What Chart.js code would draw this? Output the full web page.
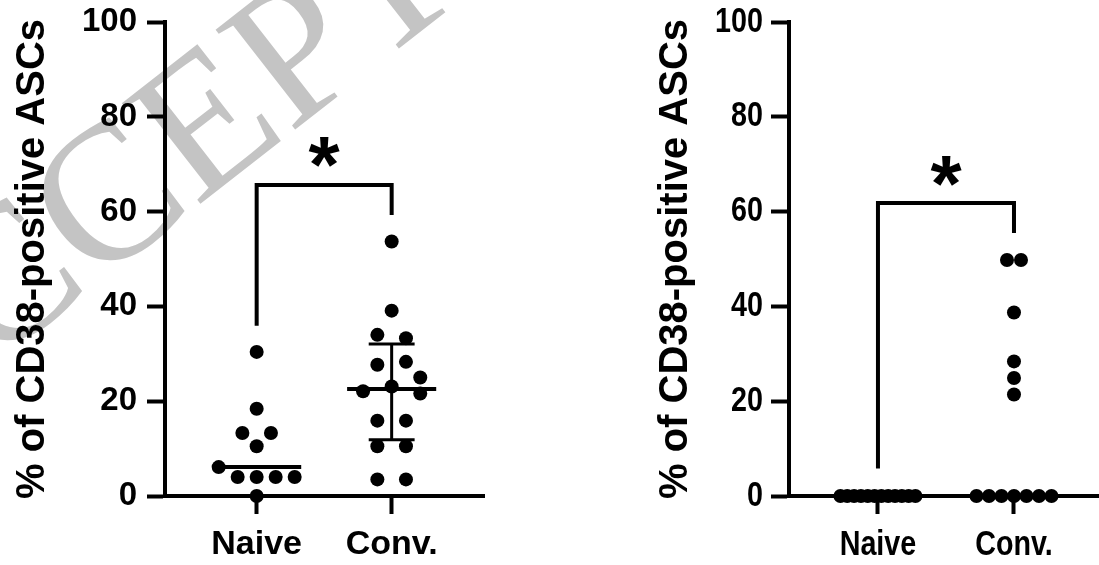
<!DOCTYPE html>
<html>
<head>
<meta charset="utf-8">
<script src="https://cdn.jsdelivr.net/npm/chart.js@4.4.1/dist/chart.umd.min.js"></script>
<style>
  html, body { margin: 0; padding: 0; background: #fff; }
  #wrap { position: relative; width: 1099px; height: 565px; overflow: hidden; }
  .panel { position: absolute; top: 0; height: 565px; }
</style>
</head>
<body>
<div id="wrap">
  <div class="panel" style="left:0;width:549px"><canvas id="left" width="549" height="565"></canvas></div>
  <div class="panel" style="left:549px;width:550px"><canvas id="right" width="550" height="565"></canvas></div>
</div>
<script>
// ---- data ----
const groups = ['Naive', 'Conv.']
const yTitle = '% of CD38-positive ASCs'
const yMin = 0
const yMax = 100
const yStep = 20

// left panel
const leftNaive = [0, 6.1, 4.0, 4.0, 4.0, 4.0, 13.3, 10.5, 13.3, 18.4, 30.4]
const leftConv = [3.5, 3.5, 10.5, 10.5, 15.9, 15.9, 22.1, 23.1, 21.6, 25.0, 27.7, 28.3, 34.0, 33.3, 39.1, 53.7]
const leftBracket = [35.9, 65.6, 65.6, 59.3]   // naive leg end, top, top, conv leg end
const leftStar = 72.3

// right panel
const rightNaive = [0, 0, 0, 0, 0, 0, 0, 0, 0, 0, 0, 0]
const rightConv = [0, 0, 0, 0, 0, 0, 0, 21.4, 24.9, 28.4, 38.7, 49.8, 49.8]
const rightBracket = [5.8, 61.8, 61.8, 55.5]
const rightStar = 68.3

const SANS = '"Liberation Sans", Arial, sans-serif'

// ---- helpers ----
function quantile(values, p) {
  // same interpolation as GraphPad: position (n+1)p
  const s = [...values].sort((a, b) => a - b)
  const pos = (s.length + 1) * p
  const lo = Math.max(1, Math.min(s.length, Math.floor(pos)))
  const hi = Math.min(s.length, lo + 1)
  const frac = Math.max(0, Math.min(1, pos - lo))
  return s[lo - 1] + frac * (s[hi - 1] - s[lo - 1])
}

// simple GraphPad-like swarm: near-equal values share a row, rows spread symmetrically,
// a row is pushed sideways if it would overlap dots already placed
function swarmOffsets(values, pxPerY, o) {
  const order = values.map((v, i) => i).sort((a, b) => values[a] - values[b] || a - b)
  const rows = []
  order.forEach(i => {
    const row = rows[rows.length - 1]
    if (row && values[i] - values[row[0]] <= o.rowSpan) row.push(i)
    else rows.push([i])
  })
  const off = new Array(values.length).fill(0)
  const placed = []
  rows.forEach(row => {
    row.sort((a, b) => a - b)
    const n = row.length
    const step = n > 1 ? Math.min(o.step, o.maxWidth / (n - 1)) : 0
    const base = row.map((i, k) => (k - (n - 1) / 2) * step)
    const shifts = [0]
    for (let k = 1; k <= 4; k++) shifts.push(k * o.step, -k * o.step)
    let shift = 0
    for (const s of shifts) {
      const ok = row.every((i, k) => placed.every(p =>
        Math.hypot(p.x - (base[k] + s), p.y - values[i] * pxPerY) >= o.minDist - 0.01))
      if (ok) { shift = s; break }
    }
    row.forEach((i, k) => {
      off[i] = base[k] + shift
      placed.push({x: off[i], y: values[i] * pxPerY})
    })
  })
  return off
}

const watermark = {
  id: 'watermark',
  beforeDraw(chart, args, opts) {
    if (!opts.show) return
    const ctx = chart.ctx
    ctx.save()
    ctx.fillStyle = '#c4c4c4'
    ctx.font = '195px "Liberation Serif", "Times New Roman", serif'
    ctx.translate(-120, 454)
    ctx.rotate(-38 * Math.PI / 180)
    ctx.fillText('ACCEPTED MANUSCRIPT', 0, 0)
    ctx.restore()
  }
}

const starLabel = {
  id: 'starLabel',
  afterDatasetsDraw(chart, args, opts) {
    const ctx = chart.ctx
    const x = chart.scales.x.getPixelForValue(1.5)
    const y = chart.scales.y.getPixelForValue(opts.value)
    ctx.save()
    ctx.fillStyle = '#000'
    ctx.font = 'bold 80px ' + SANS
    ctx.textAlign = 'center'
    ctx.textBaseline = 'alphabetic'
    ctx.fillText('*', x, y + 0.49 * 80)
    ctx.restore()
  }
}

// tick labels drawn by hand so the right panel can use a condensed face
const tickText = {
  id: 'tickText',
  afterDraw(chart, args, opts) {
    const ctx = chart.ctx
    const xs = chart.scales.x
    const ys = chart.scales.y
    ctx.save()
    ctx.fillStyle = '#000'
    ctx.font = 'bold ' + opts.ySize + 'px ' + SANS
    ys.ticks.forEach(t => {
      ctx.save()
      ctx.translate(ys.right - 18 - opts.pad, ys.getPixelForValue(t.value))
      ctx.scale(opts.squeeze, 1)
      ctx.textAlign = 'right'
      ctx.textBaseline = 'middle'
      ctx.fillText(String(t.value), 0, 0)
      ctx.restore()
    })
    ctx.font = 'bold ' + opts.xSize + 'px ' + SANS
    xs.ticks.forEach((t, i) => {
      ctx.save()
      ctx.translate(xs.getPixelForValue(t.value), xs.top + opts.xTop)
      ctx.scale(opts.squeeze, 1)
      ctx.textAlign = 'center'
      ctx.textBaseline = 'top'
      ctx.fillText(groups[i], 0, 0)
      ctx.restore()
    })
    ctx.restore()
  }
}

function makePanel(id, cfg) {
  const centers = [1, 2]
  const series = [cfg.naive, cfg.conv]
  const datasets = []

  series.forEach((vals, g) => {
    datasets.push({
      type: 'scatter',
      data: vals.map(v => ({x: centers[g], y: v})),
      pointRadius: 7,
      pointHoverRadius: 7,
      pointBackgroundColor: '#000',
      pointBorderWidth: 0,
      clip: false,
      order: 2
    })
  })

  series.forEach((vals, g) => {
    const c = centers[g]
    const med = quantile(vals, 0.5)
    datasets.push({
      type: 'scatter', showLine: true,
      data: [{x: c - 0.33, y: med}, {x: c + 0.33, y: med}],
      borderColor: '#000', borderWidth: 4, pointRadius: 0, clip: false, order: 1
    })
    if (cfg.showIqr[g]) {
      const q1 = quantile(vals, 0.25)
      const q3 = quantile(vals, 0.75)
      datasets.push({
        type: 'scatter', showLine: true, spanGaps: false,
        data: [
          {x: c, y: q1}, {x: c, y: q3}, {x: c, y: null},
          {x: c - 0.17, y: q1}, {x: c + 0.17, y: q1}, {x: c, y: null},
          {x: c - 0.17, y: q3}, {x: c + 0.17, y: q3}
        ],
        borderColor: '#000', borderWidth: 3, pointRadius: 0, clip: false, order: 1
      })
    }
  })

  const b = cfg.bracket
  datasets.push({
    type: 'scatter', showLine: true,
    data: [{x: 1, y: b[0]}, {x: 1, y: b[1]}, {x: 2, y: b[2]}, {x: 2, y: b[3]}],
    borderColor: '#000', borderWidth: 4, borderJoinStyle: 'miter',
    pointRadius: 0, clip: false, order: 1
  })

  const chart = new Chart(document.getElementById(id), {
    type: 'scatter',
    data: {datasets},
    plugins: [watermark, starLabel, tickText],
    options: {
      responsive: false,
      animation: false,
      events: [],
      layout: {autoPadding: false, padding: {top: 22, right: cfg.padRight, bottom: 0, left: 0}},
      plugins: {
        legend: {display: false},
        tooltip: {enabled: false},
        watermark: {show: cfg.watermark},
        starLabel: {value: cfg.star},
        tickText: cfg.labels
      },
      scales: {
        x: {
          type: 'linear',
          min: cfg.xMin, max: cfg.xMax,
          afterBuildTicks: s => { s.ticks = centers.map(v => ({value: v})) },
          afterFit: s => { s.height = 69 },
          ticks: {display: false},
          grid: {drawOnChartArea: false, drawTicks: true, tickLength: 18, tickWidth: 4, tickColor: '#000'},
          border: {display: true, color: '#000', width: 4}
        },
        y: {
          min: yMin, max: yMax,
          afterFit: s => { s.width = cfg.axisX },
          ticks: {display: false, stepSize: yStep},
          grid: {drawOnChartArea: false, drawTicks: true, tickLength: 18, tickWidth: 4, tickColor: '#000'},
          border: {display: true, color: '#000', width: 4},
          title: {
            display: true,
            text: yTitle,
            color: '#000',
            padding: {top: cfg.titlePad, bottom: 0},
            font: {family: SANS, size: 40, weight: 'bold', lineHeight: 1.2}
          }
        }
      }
    }
  })

  // second pass: spread the dots once the scales know their pixel sizes
  const pxPerX = chart.scales.x.getPixelForValue(2) - chart.scales.x.getPixelForValue(1)
  const pxPerY = Math.abs(chart.scales.y.getPixelForValue(1) - chart.scales.y.getPixelForValue(0))
  series.forEach((vals, g) => {
    const off = swarmOffsets(vals, pxPerY, cfg.swarm)
    chart.data.datasets[g].data = vals.map((v, i) => ({x: centers[g] + off[i] / pxPerX, y: v}))
  })
  chart.update('none')
  return chart
}

makePanel('left', {
  naive: leftNaive, conv: leftConv, bracket: leftBracket, star: leftStar,
  showIqr: [false, true],
  watermark: true,
  labels: {ySize: 33, xSize: 34, squeeze: 1, pad: 10, xTop: 32},
  axisX: 165, padRight: 65, xMin: 0.321, xMax: 2.684,
  titlePad: 9,
  swarm: {rowSpan: 2.4, step: 28.6, maxWidth: 76, minDist: 14}
})

makePanel('right', {
  naive: rightNaive, conv: rightConv, bracket: rightBracket, star: rightStar,
  showIqr: [false, false],
  watermark: false,
  labels: {ySize: 35, xSize: 35, squeeze: 0.82, pad: 8, xTop: 32},
  axisX: 240, padRight: 0, xMin: 0.346, xMax: 2.625,
  titlePad: 103,
  swarm: {rowSpan: 2.4, step: 14, maxWidth: 75, minDist: 14}
})
</script>
</body>
</html>
